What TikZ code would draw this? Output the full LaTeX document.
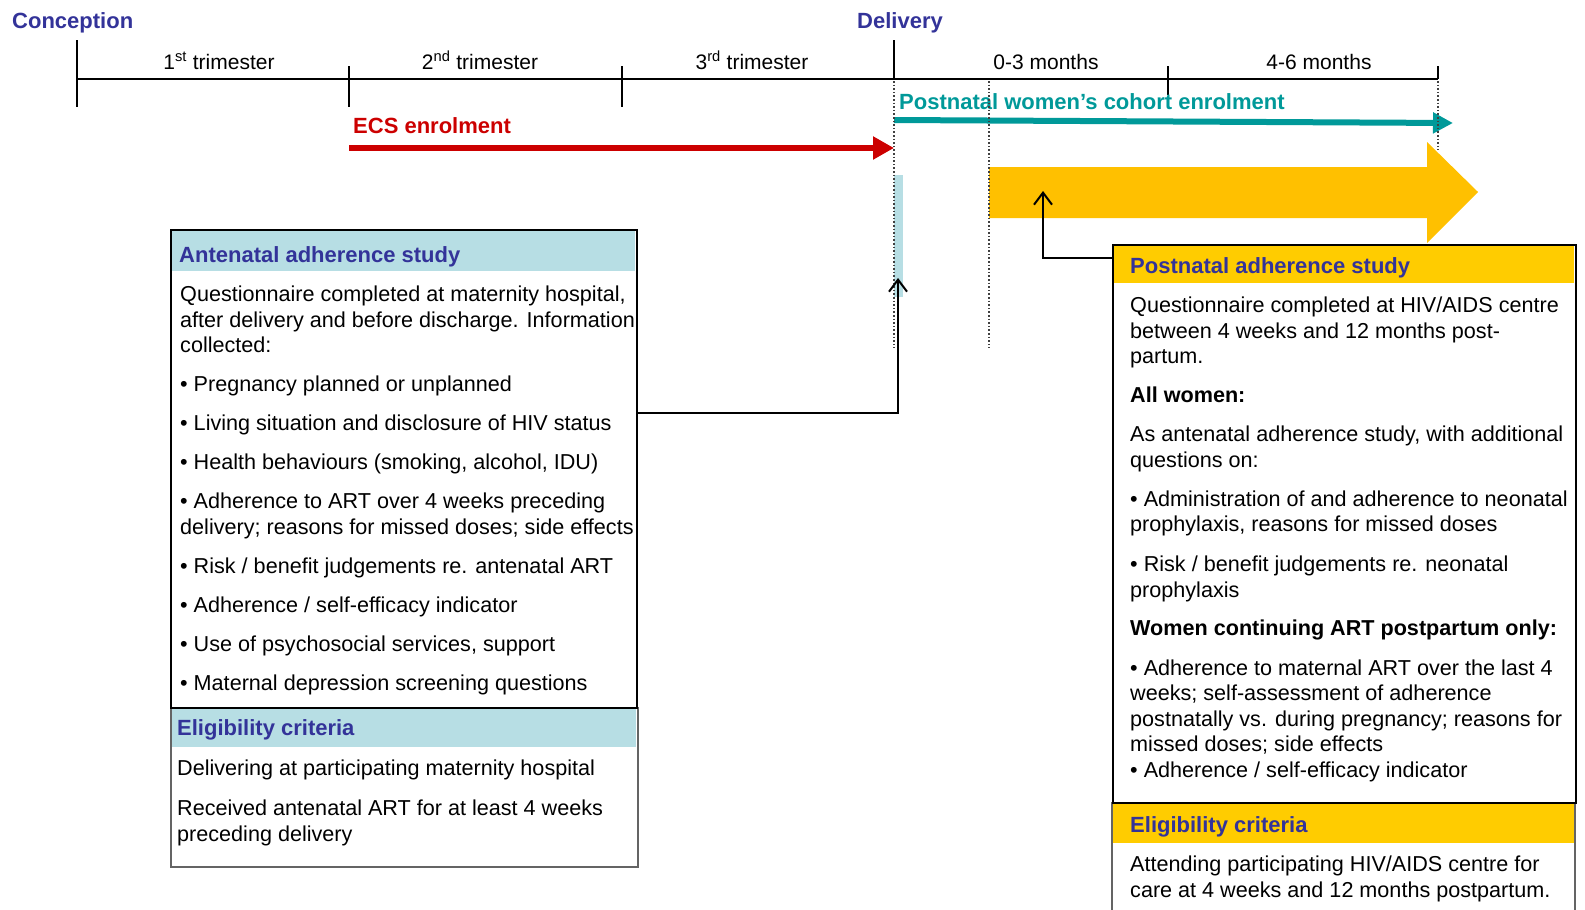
\documentclass[tikz,border=0pt]{standalone}
\usepackage{fontspec}
\setmainfont{Liberation Sans}
\usetikzlibrary{arrows.meta}
\definecolor{hblue}{RGB}{51,51,153}
\definecolor{ecsred}{RGB}{204,0,0}
\definecolor{tealc}{RGB}{0,153,153}
\definecolor{lblue}{RGB}{183,222,228}
\definecolor{amber}{RGB}{255,192,0}
\definecolor{gold}{RGB}{255,204,0}
\definecolor{edgegray}{RGB}{100,100,100}
\begin{document}
\begin{tikzpicture}[x=1pt,y=-1pt,
  ln/.style={anchor=base west, inner sep=0pt, font=\fontsize{21.6}{26}\selectfont},
  hd/.style={ln, font=\fontsize{22}{26}\selectfont\bfseries, text=hblue},
  bd/.style={ln, font=\fontsize{21.6}{26}\selectfont\bfseries},
  tl/.style={anchor=base, inner sep=0pt, font=\fontsize{21}{25}\selectfont},
  conn/.style={line width=2pt, -{Straight Barb[length=12pt,width=18pt]}},
  tickline/.style={line width=2.5pt},
  dots/.style={line width=1.6pt, black!75, dash pattern=on 1.6pt off 2pt},
  boxst/.style={draw, line width=2pt, inner sep=0pt, anchor=north west},
]
\useasboundingbox (0,0) rectangle (1585,910);

% timeline
\draw[tickline] (77,79) -- (1438,79);
\draw[tickline] (77,40) -- (77,107);
\draw[tickline] (349,66) -- (349,107);
\draw[tickline] (622,66) -- (622,107);
\draw[tickline] (894,40) -- (894,79);
\draw[tickline] (1168,66) -- (1168,95);
\draw[tickline] (1438,66) -- (1438,79);

\node[hd] (conc) at (12,28) {Conception};
\node[hd] (deliv) at (857,28) {Delivery};
\node[tl] (t1) at (219,69) {1\textsuperscript{st} trimester};
\node[tl] (t2) at (480,69) {2\textsuperscript{nd} trimester};
\node[tl] (t3) at (752,69) {3\textsuperscript{rd} trimester};
\node[tl] (m1) at (1046,69) {0-3 months};
\node[tl] (m2) at (1319,69) {4-6 months};

% enrolment arrows
\node[ln, font=\fontsize{22}{26}\selectfont\bfseries, text=ecsred] (ecs) at (353,133) {ECS enrolment};
\draw[line width=6pt, ecsred, -{Triangle[length=21pt,width=22pt]}] (349,148) -- (894,148);
\node[ln, font=\fontsize{22}{26}\selectfont\bfseries, text=tealc] (pwc) at (899,109) {Postnatal women’s cohort enrolment};
\draw[line width=6pt, tealc, -{Triangle[length=20pt,width=20pt]}] (894,120) -- (1453,123);

% light blue bar and yellow arrow
\fill[lblue] (894,175) rectangle (903,297);
\fill[amber] (989,167) -- (1427,167) -- (1427,142) -- (1478,192) -- (1427,243) -- (1427,218) -- (989,218) -- cycle;

% dotted lines
\draw[dots] (894,81) -- (894,348);
\draw[dots] (989,81) -- (989,348);
\draw[dots] (1438,81) -- (1438,150);

% antenatal boxes
\fill[lblue] (171,708) rectangle (636,747);
\node[boxst, draw=edgegray, line width=1.5pt, minimum width=467pt, minimum height=159pt] (aelig) at (170,707) {};
\fill[lblue] (171,230) rectangle (635,271);
\node[boxst, minimum width=466pt, minimum height=478pt] (abox) at (170,229) {};

\node[hd] (ah) at (179,262) {Antenatal adherence study};
\node[ln] (a1) at (180,301.5) {Questionnaire completed at maternity hospital,};
\node[ln] (a2) at (180,327) {after delivery and before discharge. Information};
\node[ln] (a3) at (180,352.5) {collected:};
\node[ln] (a4) at (180,391.5) {• Pregnancy planned or unplanned};
\node[ln] (a5) at (180,430.5) {• Living situation and disclosure of HIV status};
\node[ln] (a6) at (180,469.5) {• Health behaviours (smoking, alcohol, IDU)};
\node[ln] (a7) at (180,508.5) {• Adherence to ART over 4 weeks preceding};
\node[ln] (a8) at (180,534) {delivery; reasons for missed doses; side effects};
\node[ln] (a9) at (180,573) {• Risk / benefit judgements re. antenatal ART};
\node[ln] (a10) at (180,612) {• Adherence / self-efficacy indicator};
\node[ln] (a11) at (180,651) {• Use of psychosocial services, support};
\node[ln] (a12) at (180,690) {• Maternal depression screening questions};

\node[hd] (eh) at (177,735) {Eligibility criteria};
\node[ln] (e1) at (177,775.5) {Delivering at participating maternity hospital};
\node[ln] (e2) at (177,815.5) {Received antenatal ART for at least 4 weeks};
\node[ln] (e3) at (177,841) {preceding delivery};

% postnatal boxes
\fill[gold] (1113,803) rectangle (1574,843);
\draw[edgegray, line width=1.5pt] (1112,802) -- (1112,915) (1575,802) -- (1575,915);
\fill[gold] (1113,245) rectangle (1574,283);
\node[boxst, minimum width=463pt, minimum height=558pt] (pbox) at (1112,244) {};

\node[hd] (ph) at (1130,273) {Postnatal adherence study};
\node[ln] (p1) at (1130,312.5) {Questionnaire completed at HIV/AIDS centre};
\node[ln] (p2) at (1130,338) {between 4 weeks and 12 months post-};
\node[ln] (p3) at (1130,363.5) {partum.};
\node[bd] (p4) at (1130,402.5) {All women:};
\node[ln] (p5) at (1130,441.5) {As antenatal adherence study, with additional};
\node[ln] (p6) at (1130,467) {questions on:};
\node[ln] (p7) at (1130,506) {• Administration of and adherence to neonatal};
\node[ln] (p8) at (1130,531.5) {prophylaxis, reasons for missed doses};
\node[ln] (p9) at (1130,571.5) {• Risk / benefit judgements re. neonatal};
\node[ln] (p10) at (1130,597) {prophylaxis};
\node[bd] (p11) at (1130,635.5) {Women continuing ART postpartum only:};
\node[ln] (p12) at (1130,675) {• Adherence to maternal ART over the last 4};
\node[ln] (p13) at (1130,700.5) {weeks; self-assessment of adherence};
\node[ln] (p14) at (1130,726) {postnatally vs. during pregnancy; reasons for};
\node[ln] (p15) at (1130,751.5) {missed doses; side effects};
\node[ln] (p16) at (1130,777) {• Adherence / self-efficacy indicator};

\node[hd] (qh) at (1130,832) {Eligibility criteria};
\node[ln] (q1) at (1130,871.5) {Attending participating HIV/AIDS centre for};
\node[ln] (q2) at (1130,897) {care at 4 weeks and 12 months postpartum.};

% connectors
\coordinate (yA) at (0,413);
\coordinate (yP) at (0,258);
\coordinate (tipA) at (898,278);
\coordinate (tipP) at (1043,191);
\draw[conn] (abox.east |- yA) -| (tipA);
\draw[conn] (pbox.west |- yP) -| (tipP);
\end{tikzpicture}
\end{document}
